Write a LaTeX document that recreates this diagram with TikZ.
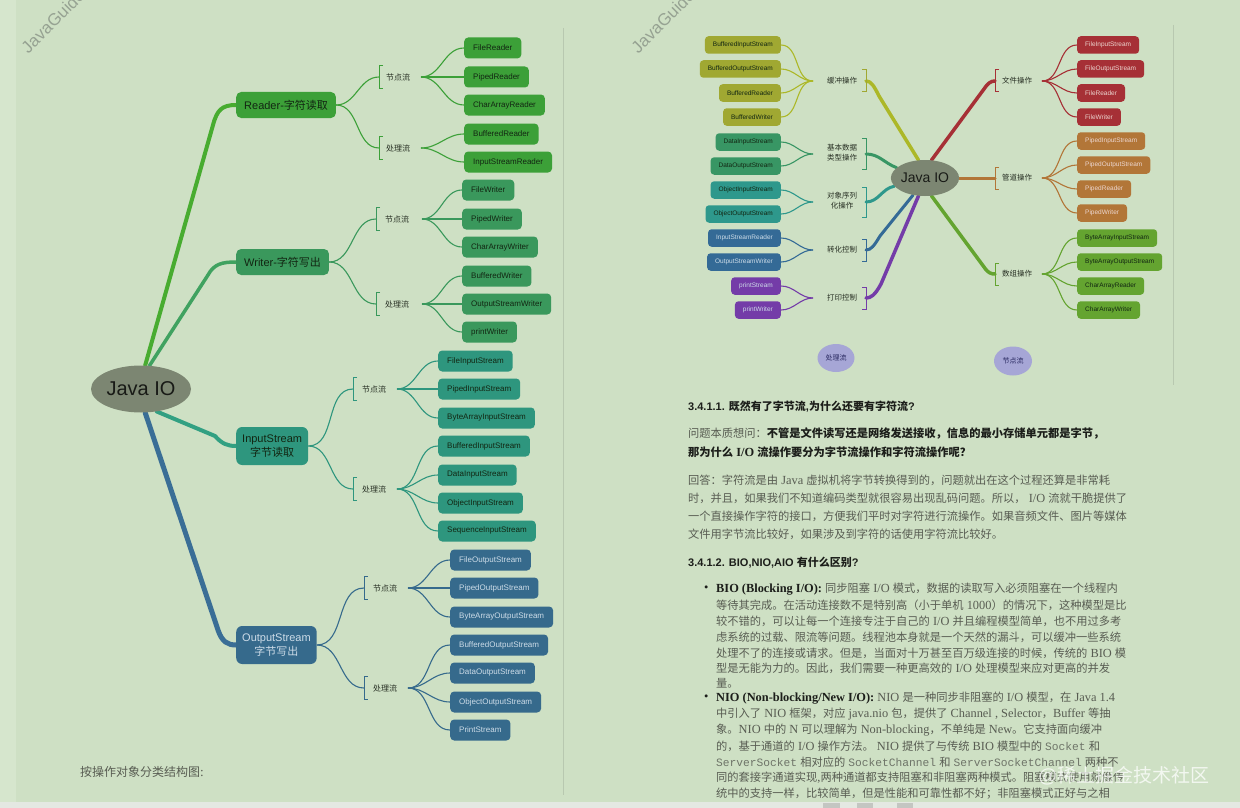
\documentclass[tikz,border=0pt]{standalone}
\usepackage{fontspec}
\usetikzlibrary{shapes.geometric}
\setmainfont{Liberation Serif}
\newfontfamily\cjkf[NFSSFamily=notocjk]{Noto Sans CJK SC}
\newfontfamily\lsansf[NFSSFamily=libsans]{Liberation Sans}
\newfontfamily\lseriff[NFSSFamily=libserif, Scale=1.1]{Liberation Serif}
\newfontfamily\lmonof[NFSSFamily=libmono]{Liberation Mono}
\newXeTeXintercharclass\CJKcls
\makeatletter
\count@="2E80
\loop\XeTeXcharclass\count@=\CJKcls\relax\ifnum\count@<"9FFF\relax\advance\count@\@ne\repeat
\count@="FF00
\loop\XeTeXcharclass\count@=\CJKcls\relax\ifnum\count@<"FFEF\relax\advance\count@\@ne\repeat
\makeatother
\def\latfam{libserif}
\XeTeXinterchartoks 0 \CJKcls = {\fontfamily{notocjk}\selectfont}
\XeTeXinterchartoks 4095 \CJKcls = {\fontfamily{notocjk}\selectfont}
\XeTeXinterchartoks \CJKcls 0 = {\fontfamily{\latfam}\selectfont}
\XeTeXinterchartoks \CJKcls 4095 = {\fontfamily{\latfam}\selectfont}
\XeTeXinterchartokenstate=1
\newcommand\SF[2]{\def\latfam{libsans}\fontfamily{libsans}\fontsize{#1}{#2}\selectfont}
\newcommand\RF[2]{\def\latfam{libserif}\fontfamily{libserif}\fontsize{#1}{#2}\selectfont}
\newcommand\mono[1]{{\fontfamily{libmono}\selectfont\color{txtM}#1}}
\definecolor{bg}{RGB}{206,224,196}
\definecolor{bgL}{RGB}{214,230,205}
\definecolor{strip}{RGB}{228,232,226}
\definecolor{tabc}{RGB}{196,198,194}
\definecolor{divl}{RGB}{184,200,176}
\definecolor{gR}{RGB}{60,160,56}
\definecolor{gRl}{RGB}{72,172,48}
\definecolor{gW}{RGB}{58,152,92}
\definecolor{gWl}{RGB}{64,162,96}
\definecolor{gI}{RGB}{46,150,126}
\definecolor{gIl}{RGB}{50,160,130}
\definecolor{gO}{RGB}{54,106,140}
\definecolor{gOl}{RGB}{58,110,150}
\definecolor{tDark}{RGB}{18,38,18}
\definecolor{tLight}{RGB}{205,220,232}
\definecolor{tLr}{RGB}{236,214,208}
\definecolor{labc}{RGB}{40,48,36}
\definecolor{ellc}{RGB}{124,134,114}
\definecolor{tJ}{RGB}{24,26,22}
\definecolor{cOlv}{RGB}{160,168,50}
\definecolor{cOlvL}{RGB}{172,184,40}
\definecolor{cDg}{RGB}{56,150,100}
\definecolor{cTl}{RGB}{46,152,140}
\definecolor{cBl}{RGB}{52,106,150}
\definecolor{cPu}{RGB}{116,60,168}
\definecolor{cRd}{RGB}{166,48,54}
\definecolor{cBr}{RGB}{178,118,56}
\definecolor{cLg}{RGB}{100,164,48}
\definecolor{lav}{RGB}{166,166,214}
\definecolor{lavt}{RGB}{40,40,96}
\definecolor{txt}{RGB}{88,92,82}
\definecolor{txtB}{RGB}{28,30,26}
\definecolor{txtM}{RGB}{110,116,104}
\definecolor{wmc}{RGB}{150,162,146}
\pgfdeclarelayer{back}
\pgfdeclarelayer{mid}
\pgfsetlayers{back,mid,main}
\begin{document}
\begin{tikzpicture}[x=1pt,y=-1pt,
  cbox/.style={rounded corners=4pt, minimum height=21pt, inner xsep=9pt, inner ysep=0pt, anchor=west, font={\SF{8}{9.6}}},
  rbox/.style={rounded corners=3.5pt, minimum height=17.5pt, inner xsep=8pt, inner ysep=0pt, font={\SF{6.5}{8}}},
  mbox/.style={rounded corners=5pt, minimum height=26pt, inner xsep=8pt, inner ysep=0pt, anchor=west, font={\SF{11}{13}}, text=tDark},
  mbox2/.style={rounded corners=6pt, minimum height=38pt, inner xsep=6pt, inner ysep=0pt, anchor=west, align=center, font={\SF{11}{14}}},
  lab/.style={inner sep=0pt, anchor=west, font={\SF{8}{10}}, text=labc},
  rlab/.style={inner sep=0pt, align=center, font={\SF{7.5}{10}}, text=labc},
  fan/.style={line width=1.1pt},
  brk/.style={line width=1pt},
  trunk/.style={line width=4pt, line cap=round},
  txt/.style={anchor=west, inner sep=0pt, font={\RF{11.25}{14}}, text=txt},
  hd/.style={anchor=west, inner sep=0pt, font={\SF{11}{14}\bfseries}, text=txtB},
  wmark/.style={rotate=45, anchor=west, inner sep=0pt, font={\SF{17}{19}}, text=wmc}
]
\useasboundingbox (0,0) rectangle (1240,808);
\begin{pgfonlayer}{back}
\fill[bg] (0,0) rectangle (1240,808);
\fill[bgL] (0,0) rectangle (16,802);
\fill[strip] (0,802) rectangle (1240,808);
\fill[tabc] (823,803) rectangle (840,808);
\fill[tabc] (857,803) rectangle (873,808);
\fill[tabc] (897,803) rectangle (913,808);
\draw[divl, line width=0.8pt] (563,28) -- (563,795);
\draw[divl, line width=0.8pt] (1173,25) -- (1173,385);
\end{pgfonlayer}

% watermarks (cut by the top edge)
\begin{scope}
\clip (0,0) rectangle (1240,808);
\node[wmark] (wm1) at (24,50) {JavaGuide};
\node[wmark] (wm2) at (634,50) {JavaGuide};
\end{scope}

% ================= LEFT MIND MAP =================
\node[ellipse, fill=ellc, minimum width=100pt, minimum height=47pt, inner sep=0pt, font={\SF{20}{24}}, text=tJ] (J) at (141,389) {Java IO};
\node[mbox, fill=gR] (R) at (236,105) {Reader-字符读取};
\node[mbox, fill=gW] (W) at (236,262) {Writer-字符写出};
\node[mbox2, fill=gI, text=tDark] (I) at (236,446) {InputStream\\字节读取};
\node[mbox2, fill=gO, text=tLight] (O) at (236,645) {OutputStream\\字节写出};
\begin{pgfonlayer}{mid}
\draw[trunk, gRl] (J.80) -- (213,125) .. controls (217,110) and (222,105) .. (R.west);
\draw[trunk, gWl, line width=3.5pt] (J.70) -- (208,275) .. controls (214,264) and (222,262) .. (W.west);
\draw[trunk, gIl] (J.-55) -- (215,436) .. controls (222,444) and (228,446) .. (I.west);
\draw[trunk, gOl, line width=5pt] (J.-80) -- (218,630) .. controls (222,642) and (228,645) .. (O.west);
\end{pgfonlayer}

% Reader
\coordinate (Rnb) at (379,77); \coordinate (Rnf) at (421,77);
\node[lab] (Rn) at (386,77) {节点流};
\draw[brk, gR] (Rnb) ++(4,-11.5) -- ++(-4,0) -- ++(0,23) -- ++(4,0);
\draw[fan, gR] (R.east) to[out=0,in=180] (Rnb);
\foreach \nm/\y/\tx in {r1/48/FileReader, r2/77/PipedReader, r3/105/CharArrayReader}{
  \node[cbox, fill=gR, text=tDark] (\nm) at (464,\y) {\tx};
  \draw[fan, gR] (Rnf) to[out=0,in=180] (\nm.west);}
\coordinate (Rcb) at (379,148); \coordinate (Rcf) at (421,148);
\node[lab] (Rc) at (386,148) {处理流};
\draw[brk, gR] (Rcb) ++(4,-11.5) -- ++(-4,0) -- ++(0,23) -- ++(4,0);
\draw[fan, gR] (R.east) to[out=0,in=180] (Rcb);
\foreach \nm/\y/\tx in {r4/134/BufferedReader, r5/162/InputStreamReader}{
  \node[cbox, fill=gR, text=tDark] (\nm) at (464,\y) {\tx};
  \draw[fan, gR] (Rcf) to[out=0,in=180] (\nm.west);}

% Writer
\coordinate (Wnb) at (376,219); \coordinate (Wnf) at (422,219);
\node[lab] (Wn) at (385,219) {节点流};
\draw[brk, gW] (Wnb) ++(4,-11.5) -- ++(-4,0) -- ++(0,23) -- ++(4,0);
\draw[fan, gW] (W.east) to[out=0,in=180] (Wnb);
\foreach \nm/\y/\tx in {w1/190/FileWriter, w2/219/PipedWriter, w3/247/CharArrayWriter}{
  \node[cbox, fill=gW, text=tDark] (\nm) at (462,\y) {\tx};
  \draw[fan, gW] (Wnf) to[out=0,in=180] (\nm.west);}
\coordinate (Wcb) at (376,304); \coordinate (Wcf) at (422,304);
\node[lab] (Wc) at (385,304) {处理流};
\draw[brk, gW] (Wcb) ++(4,-11.5) -- ++(-4,0) -- ++(0,23) -- ++(4,0);
\draw[fan, gW] (W.east) to[out=0,in=180] (Wcb);
\foreach \nm/\y/\tx in {w4/276/BufferedWriter, w5/304/OutputStreamWriter, w6/332/printWriter}{
  \node[cbox, fill=gW, text=tDark] (\nm) at (462,\y) {\tx};
  \draw[fan, gW] (Wcf) to[out=0,in=180] (\nm.west);}

% InputStream
\coordinate (Inb) at (353,389); \coordinate (Inf) at (397,389);
\node[lab] (In) at (362,389) {节点流};
\draw[brk, gI] (Inb) ++(4,-11.5) -- ++(-4,0) -- ++(0,23) -- ++(4,0);
\draw[fan, gI] (I.east) to[out=0,in=180] (Inb);
\foreach \nm/\y/\tx in {i1/361/FileInputStream, i2/389/PipedInputStream, i3/418/ByteArrayInputStream}{
  \node[cbox, fill=gI, text=tDark] (\nm) at (438,\y) {\tx};
  \draw[fan, gI] (Inf) to[out=0,in=180] (\nm.west);}
\coordinate (Icb) at (353,489); \coordinate (Icf) at (397,489);
\node[lab] (Ic) at (362,489) {处理流};
\draw[brk, gI] (Icb) ++(4,-11.5) -- ++(-4,0) -- ++(0,23) -- ++(4,0);
\draw[fan, gI] (I.east) to[out=0,in=180] (Icb);
\foreach \nm/\y/\tx in {i4/446/BufferedInputStream, i5/475/DataInputStream, i6/503/ObjectInputStream, i7/531/SequenceInputStream}{
  \node[cbox, fill=gI, text=tDark] (\nm) at (438,\y) {\tx};
  \draw[fan, gI] (Icf) to[out=0,in=180] (\nm.west);}

% OutputStream
\coordinate (Onb) at (364,588); \coordinate (Onf) at (408,588);
\node[lab] (On) at (373,588) {节点流};
\draw[brk, gO] (Onb) ++(4,-11.5) -- ++(-4,0) -- ++(0,23) -- ++(4,0);
\draw[fan, gO] (O.east) to[out=0,in=180] (Onb);
\foreach \nm/\y/\tx in {o1/560/FileOutputStream, o2/588/PipedOutputStream, o3/617/ByteArrayOutputStream}{
  \node[cbox, fill=gO, text=tLight] (\nm) at (450,\y) {\tx};
  \draw[fan, gO] (Onf) to[out=0,in=180] (\nm.west);}
\coordinate (Ocb) at (364,688); \coordinate (Ocf) at (408,688);
\node[lab] (Oc) at (373,688) {处理流};
\draw[brk, gO] (Ocb) ++(4,-11.5) -- ++(-4,0) -- ++(0,23) -- ++(4,0);
\draw[fan, gO] (O.east) to[out=0,in=180] (Ocb);
\foreach \nm/\y/\tx in {o4/645/BufferedOutputStream, o5/673/DataOutputStream, o6/702/ObjectOutputStream, o7/730/PrintStream}{
  \node[cbox, fill=gO, text=tLight] (\nm) at (450,\y) {\tx};
  \draw[fan, gO] (Ocf) to[out=0,in=180] (\nm.west);}

\node[anchor=west, inner sep=0pt, font={\RF{12}{14}}, text=txt] (cap) at (80,772) {按操作对象分类结构图:};

% ================= RIGHT MIND MAP =================
\node[ellipse, fill=ellc, minimum width=64pt, minimum height=36pt, inner sep=0pt, font={\SF{14}{16}}, text=tJ] (JR) at (925,178) {Java IO};

% left side groups
\coordinate (Bb) at (866,81); \coordinate (Bf) at (813,81);
\node[rlab] (Bl) at (842,81) {缓冲操作};
\draw[brk, cOlv] (Bb) ++(-4,-11) -- ++(4,0) -- ++(0,22) -- ++(-4,0);
\foreach \nm/\y/\tx in {b1/45/BufferedInputStream, b2/69/BufferedOutputStream, b3/93/BufferedReader, b4/117/BufferedWriter}{
  \node[rbox, anchor=east, fill=cOlv, text=tDark] (\nm) at (781,\y) {\tx};
  \draw[fan, cOlvL] (Bf) to[out=180,in=0] (\nm.east);}

\coordinate (Db) at (866,154); \coordinate (Df) at (813,154);
\node[rlab] (Dl) at (842,153) {基本数据\\类型操作};
\draw[brk, cDg] (Db) ++(-4,-15.5) -- ++(4,0) -- ++(0,31) -- ++(-4,0);
\foreach \nm/\y/\tx in {d1/142/DataInputStream, d2/166/DataOutputStream}{
  \node[rbox, anchor=east, fill=cDg, text=tDark] (\nm) at (781,\y) {\tx};
  \draw[fan, cDg] (Df) to[out=180,in=0] (\nm.east);}

\coordinate (Ob) at (866,202); \coordinate (Of) at (813,202);
\node[rlab] (Ol) at (842,201) {对象序列\\化操作};
\draw[brk, cTl] (Ob) ++(-4,-15) -- ++(4,0) -- ++(0,30) -- ++(-4,0);
\foreach \nm/\y/\tx in {s1/190/ObjectInputStream, s2/214/ObjectOutputStream}{
  \node[rbox, anchor=east, fill=cTl, text=tDark] (\nm) at (781,\y) {\tx};
  \draw[fan, cTl] (Of) to[out=180,in=0] (\nm.east);}

\coordinate (Cb) at (866,250); \coordinate (Cf) at (813,250);
\node[rlab] (Cl) at (842,250) {转化控制};
\draw[brk, cBl] (Cb) ++(-4,-11) -- ++(4,0) -- ++(0,22) -- ++(-4,0);
\foreach \nm/\y/\tx in {c1/238/InputStreamReader, c2/262/OutputStreamWriter}{
  \node[rbox, anchor=east, fill=cBl, text=tLight] (\nm) at (781,\y) {\tx};
  \draw[fan, cBl] (Cf) to[out=180,in=0] (\nm.east);}

\coordinate (Pb) at (866,298); \coordinate (Pf) at (813,298);
\node[rlab] (Pl) at (842,298) {打印控制};
\draw[brk, cPu] (Pb) ++(-4,-11) -- ++(4,0) -- ++(0,22) -- ++(-4,0);
\foreach \nm/\y/\tx in {p1/286/printStream, p2/310/printWriter}{
  \node[rbox, anchor=east, fill=cPu, text=tLight] (\nm) at (781,\y) {\tx};
  \draw[fan, cPu] (Pf) to[out=180,in=0] (\nm.east);}

% right side groups
\coordinate (Fb) at (995,81); \coordinate (Ff) at (1042,81);
\node[rlab] (Fl) at (1017,81) {文件操作};
\draw[brk, cRd] (Fb) ++(4,-11) -- ++(-4,0) -- ++(0,22) -- ++(4,0);
\foreach \nm/\y/\tx in {f1/45/FileInputStream, f2/69/FileOutputStream, f3/93/FileReader, f4/117/FileWriter}{
  \node[rbox, anchor=west, fill=cRd, text=tLr] (\nm) at (1077,\y) {\tx};
  \draw[fan, cRd] (Ff) to[out=0,in=180] (\nm.west);}

\coordinate (Gb) at (995,178); \coordinate (Gf) at (1042,178);
\node[rlab] (Gl) at (1017,178) {管道操作};
\draw[brk, cBr] (Gb) ++(4,-11) -- ++(-4,0) -- ++(0,22) -- ++(4,0);
\foreach \nm/\y/\tx in {g1/141/PipedInputStream, g2/165/PipedOutputStream, g3/189/PipedReader, g4/213/PipedWriter}{
  \node[rbox, anchor=west, fill=cBr, text=tLr] (\nm) at (1077,\y) {\tx};
  \draw[fan, cBr] (Gf) to[out=0,in=180] (\nm.west);}

\coordinate (Ab) at (995,274); \coordinate (Af) at (1042,274);
\node[rlab] (Al) at (1017,274) {数组操作};
\draw[brk, cLg] (Ab) ++(4,-11) -- ++(-4,0) -- ++(0,22) -- ++(4,0);
\foreach \nm/\y/\tx in {a1/238/ByteArrayInputStream, a2/262/ByteArrayOutputStream, a3/286/CharArrayReader, a4/310/CharArrayWriter}{
  \node[rbox, anchor=west, fill=cLg, text=tDark] (\nm) at (1077,\y) {\tx};
  \draw[fan, cLg] (Af) to[out=0,in=180] (\nm.west);}

\begin{pgfonlayer}{mid}
\draw[trunk, cOlvL, line width=3.5pt] (JR.110) -- (879,96) .. controls (874,86) and (871,81) .. (Bb);
\draw[trunk, cDg, line width=3pt] (JR.160) to[out=160,in=0] (Db);
\draw[trunk, cTl, line width=3pt] (JR.195) to[out=190,in=0] (Ob);
\draw[trunk, cBl, line width=3pt] (JR.235) -- (880,236) .. controls (874,246) and (871,250) .. (Cb);
\draw[trunk, cPu, line width=3.5pt] (JR.250) -- (881,284) .. controls (875,295) and (871,298) .. (Pb);
\draw[trunk, cRd, line width=3.5pt] (JR.70) -- (984,89) .. controls (988,83) and (991,81) .. (Fb);
\draw[trunk, cBr, line width=3pt] (JR.east) -- (Gb);
\draw[trunk, cLg, line width=3.5pt] (JR.-70) -- (984,267) .. controls (988,273) and (991,274) .. (Ab);
\end{pgfonlayer}

\node[ellipse, fill=lav, minimum width=37pt, minimum height=28pt, inner sep=0pt, font={\SF{7}{8}}, text=lavt] (cl1) at (836,358) {处理流};
\node[ellipse, fill=lav, minimum width=38pt, minimum height=29pt, inner sep=0pt, font={\SF{7}{8}}, text=lavt] (cl2) at (1013,361) {节点流};

% ================= RIGHT TEXT =================
\node[hd] (h1) at (688,407) {3.4.1.1. 既然有了字节流,为什么还要有字符流?};
\node[txt] (q1) at (688,433) {问题本质想问：{\bfseries\color{txtB}不管是文件读写还是网络发送接收，信息的最小存储单元都是字节，}};
\node[txt, font={\RF{11.25}{14}\bfseries}, text=txtB] (q2) at (688,452) {那为什么 I/O 流操作要分为字节流操作和字符流操作呢？};
\node[txt] (a1) at (688,480) {回答：字符流是由 Java 虚拟机将字节转换得到的，问题就出在这个过程还算是非常耗};
\node[txt] (a2) at (688,498) {时，并且，如果我们不知道编码类型就很容易出现乱码问题。所以， I/O 流就干脆提供了};
\node[txt] (a3) at (688,516) {一个直接操作字符的接口，方便我们平时对字符进行流操作。如果音频文件、图片等媒体};
\node[txt] (a4) at (688,534) {文件用字节流比较好，如果涉及到字符的话使用字符流比较好。};
\node[hd] (h2) at (688,563) {3.4.1.2. BIO,NIO,AIO 有什么区别?};
\node[txt, text=txtB] (bu1) at (704,589) {•};
\node[txt] (b1) at (716,589) {{\bfseries\color{txtB}BIO (Blocking I/O):} 同步阻塞 I/O 模式，数据的读取写入必须阻塞在一个线程内};
\node[txt] (b2) at (716,605) {等待其完成。在活动连接数不是特别高（小于单机 1000）的情况下，这种模型是比};
\node[txt] (b3) at (716,621) {较不错的，可以让每一个连接专注于自己的 I/O 并且编程模型简单，也不用过多考};
\node[txt] (b4) at (716,637) {虑系统的过载、限流等问题。线程池本身就是一个天然的漏斗，可以缓冲一些系统};
\node[txt] (b5) at (716,653) {处理不了的连接或请求。但是，当面对十万甚至百万级连接的时候，传统的 BIO 模};
\node[txt] (b6) at (716,668) {型是无能为力的。因此，我们需要一种更高效的 I/O 处理模型来应对更高的并发};
\node[txt] (b7) at (716,683) {量。};
\node[txt, text=txtB] (bu2) at (704,698) {•};
\node[txt] (n1) at (716,698) {{\bfseries\color{txtB}NIO (Non-blocking/New I/O):} NIO 是一种同步非阻塞的 I/O 模型，在 Java 1.4};
\node[txt] (n2) at (716,714) {中引入了 NIO 框架，对应 java.nio 包，提供了 Channel , Selector，Buffer 等抽};
\node[txt] (n3) at (716,730) {象。NIO 中的 N 可以理解为 Non-blocking，不单纯是 New。它支持面向缓冲};
\node[txt] (n4) at (716,746) {的，基于通道的 I/O 操作方法。 NIO 提供了与传统 BIO 模型中的 \mono{Socket} 和};
\node[txt] (n5) at (716,762) {\mono{ServerSocket} 相对应的 \mono{SocketChannel} 和 \mono{ServerSocketChannel} 两种不};
\node[txt] (n6) at (716,778) {同的套接字通道实现,两种通道都支持阻塞和非阻塞两种模式。阻塞模式使用就像传};
\node[txt] (n7) at (716,794) {统中的支持一样，比较简单，但是性能和可靠性都不好；非阻塞模式正好与之相};
\node[anchor=west, inner sep=0pt, font={\SF{19}{22}}, text=white, opacity=0.75] (wm3) at (1038,776) {@稀土掘金技术社区};
\end{tikzpicture}
\end{document}
